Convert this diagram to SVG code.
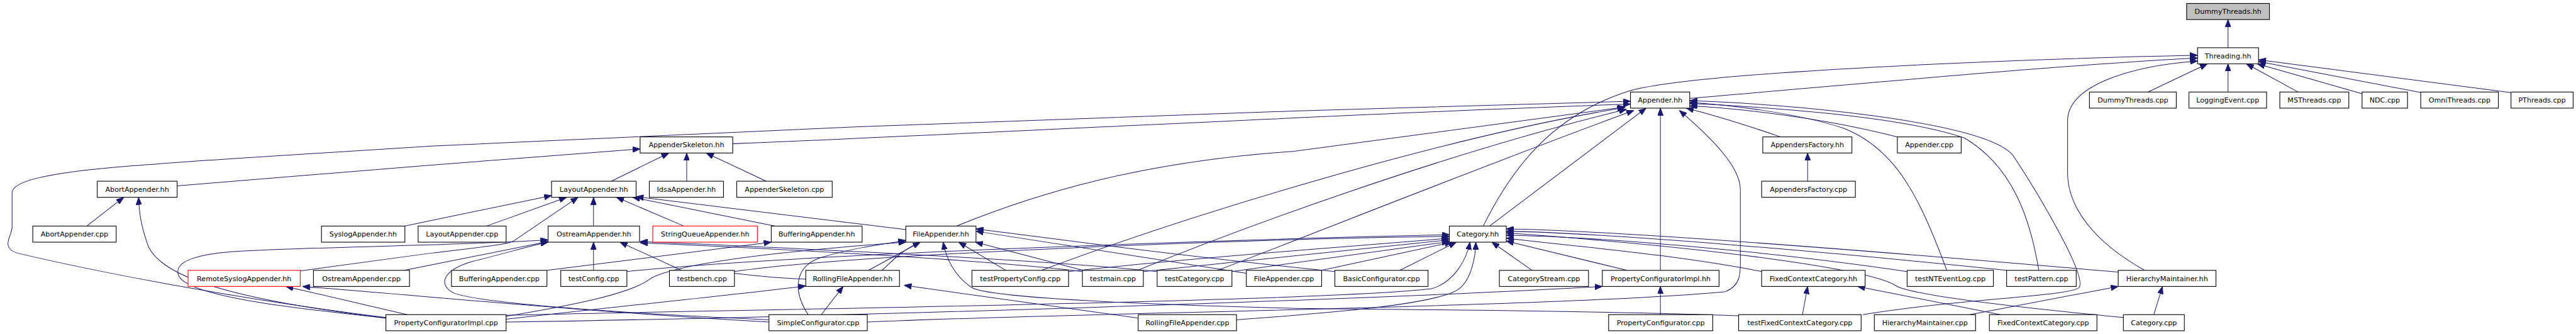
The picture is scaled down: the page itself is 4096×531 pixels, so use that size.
<svg xmlns="http://www.w3.org/2000/svg" width="4096" height="531" viewBox="0 0 4096 531">
<defs>
<marker id="a" markerUnits="userSpaceOnUse" markerWidth="13" markerHeight="10" refX="13" refY="5" orient="auto"><path d="M0,0 L13,5 L0,10 z" fill="#191970" stroke="#191970" stroke-width="1"/></marker>
<style>
.e path{fill:none;stroke:#191970;stroke-width:1.1;marker-end:url(#a)}
.n rect{fill:#fff;stroke:#000;stroke-width:1.2}
.n.g rect{fill:#bfbfbf}
.n.r rect{stroke:#ff0000}
.n text{font-family:"DejaVu Sans","Liberation Sans",sans-serif;font-size:12.2px;text-anchor:middle;fill:#000}
</style>
</defs>
<rect width="4096" height="531" fill="#fff"/>
<g transform="scale(0.91449)">
<g id="edges" class="e">
<path d="M3874,83 L3874,34"/>
<path d="M2938,171 C3300,140 3600,112 3821,101"/>
<path d="M2579,393 C2630,290 2700,200 2833,158 C2950,125 3500,103 3821,96"/>
<path d="M3729,470 C3640,420 3595,360 3595,300 L3595,210 C3595,150 3700,115 3821,106"/>
<path d="M3735,160 L3838,111"/>
<path d="M3874,160 L3874,111"/>
<path d="M3996,160 L3906,111"/>
<path d="M4107,163 L3925,111"/>
<path d="M4210,161 L3927,107"/>
<path d="M4366,161 L3927,104"/>
<path d="M1274,250 C1800,228 2400,195 2835,181"/>
<path d="M671,552 C450,525 200,480 30,440 C0,430 21,410 21,395 L21,335 C21,300 200,290 400,276 L750,254 L1500,220 L2250,193 L2835,176"/>
<path d="M2590,393 L2862,188"/>
<path d="M2887,470 L2887,188"/>
<path d="M3096,238 C3000,205 2960,195 2932,188"/>
<path d="M3299,238 C3150,200 3000,187 2938,184"/>
<path d="M3385,470 C3340,350 3300,260 3206,223 C3120,195 3000,182 2938,178"/>
<path d="M3545,470 C3530,380 3500,290 3416,240 C3300,200 3050,185 2938,180"/>
<path d="M3239,547 C3400,520 3600,515 3615,500 C3630,480 3540,330 3500,270 C3450,210 3100,180 2938,175"/>
<path d="M1277,475 C1400,490 1500,488 1519,481 C1540,470 1550,445 1600,420 C1800,330 2000,280 2250,263 L2826,186"/>
<path d="M1811,470 C2050,380 2500,240 2825,187"/>
<path d="M1978,470 C2150,400 2500,270 2828,190"/>
<path d="M2117,470 C2300,400 2600,280 2841,192"/>
<path d="M1508,560 C1800,545 2700,535 3000,507 C3030,495 3026,470 3026,440 L3026,330 C3026,300 3000,260 2920,192"/>
<path d="M308,323 L750,287 L1113,259"/>
<path d="M1063,315 L1163,266"/>
<path d="M1194,315 L1194,266"/>
<path d="M1332,315 L1228,266"/>
<path d="M3143,315 L3143,266"/>
<path d="M151,393 L215,343"/>
<path d="M671,553 C400,520 270,480 255,420 C245,390 242,370 241,343"/>
<path d="M703,393 L959,340"/>
<path d="M846,393 L985,343"/>
<path d="M522,471 L750,440 C850,428 880,425 893,419 L1005,343"/>
<path d="M1032,393 L1032,343"/>
<path d="M1189,393 L1072,343"/>
<path d="M1348,393 L1100,343"/>
<path d="M1575,399 L1106,342"/>
<path d="M703,470 L953,420"/>
<path d="M1032,470 L1032,421"/>
<path d="M1185,470 L1078,421"/>
<path d="M671,553 C500,535 330,515 311,480 C300,455 340,440 430,436 C600,428 850,425 953,417"/>
<path d="M1337,556 C1100,545 850,530 790,510 C760,495 770,470 820,455 C880,440 930,425 953,421"/>
<path d="M1882,472 C1700,450 1300,430 1113,422"/>
<path d="M2012,472 C1800,450 1300,428 1113,420"/>
<path d="M1510,470 L1600,421"/>
<path d="M1749,470 L1667,421"/>
<path d="M1883,470 L1696,421"/>
<path d="M1405,547 C1375,500 1385,460 1430,447 C1480,432 1530,425 1575,418"/>
<path d="M879,550 C1000,530 1100,510 1133,483 C1200,450 1450,430 1575,421"/>
<path d="M3023,549 C2800,540 2400,538 2250,536 C2000,530 1720,518 1690,500 C1660,480 1645,450 1640,421"/>
<path d="M2167,475 L1697,402"/>
<path d="M2321,472 C2000,440 1800,410 1697,398"/>
<path d="M1090,472 C1400,440 2200,415 2520,408"/>
<path d="M1277,472 C1500,440 2200,415 2520,411"/>
<path d="M1858,472 C2100,445 2400,425 2520,414"/>
<path d="M1988,472 C2200,450 2450,425 2520,417"/>
<path d="M2142,472 L2520,420"/>
<path d="M2298,470 L2525,421"/>
<path d="M2434,470 L2532,421"/>
<path d="M2664,470 L2594,421"/>
<path d="M2829,470 L2619,419"/>
<path d="M879,548 C1200,540 2300,525 2489,502 C2530,490 2550,450 2556,421"/>
<path d="M2150,556 C2300,545 2500,530 2537,502 C2560,485 2566,440 2566,421"/>
<path d="M3683,473 C3300,440 2800,400 2619,398"/>
<path d="M3489,470 C3200,440 2800,405 2619,402"/>
<path d="M3692,552 C3430,527 3320,510 3297,497 C3258,470 3000,432 2619,405"/>
<path d="M3316,472 C3100,440 2800,412 2619,409"/>
<path d="M3063,472 C2900,440 2700,425 2619,414"/>
<path d="M3134,547 L3143,498"/>
<path d="M3478,547 L3230,498"/>
<path d="M3425,547 L3683,498"/>
<path d="M3745,547 L3760,498"/>
<path d="M2887,547 L2887,498"/>
<path d="M879,560 C1500,550 2400,520 2786,498"/>
<path d="M879,555 C1100,530 1300,510 1401,497"/>
<path d="M1428,547 L1466,498"/>
<path d="M1979,553 L1572,496"/>
<path d="M708,547 L497,498"/>
<path d="M1337,560 C1000,540 800,520 526,498"/>
<path d="M951,470 L1341,421"/>
</g>
<g id="n1" class="n g"><rect x="3802" y="6" width="144" height="28"/><text x="3874" y="24.3">DummyThreads.hh</text></g>
<g id="n2" class="n"><rect x="3821" y="83" width="106" height="28"/><text x="3874" y="101.3">Threading.hh</text></g>
<g id="n3" class="n"><rect x="2835" y="160" width="103" height="28"/><text x="2886.5" y="178.3">Appender.hh</text></g>
<g id="n4" class="n"><rect x="3633" y="160" width="151" height="28"/><text x="3708.5" y="178.3">DummyThreads.cpp</text></g>
<g id="n5" class="n"><rect x="3806" y="160" width="135" height="28"/><text x="3873.5" y="178.3">LoggingEvent.cpp</text></g>
<g id="n6" class="n"><rect x="3964" y="160" width="120" height="28"/><text x="4024" y="178.3">MSThreads.cpp</text></g>
<g id="n7" class="n"><rect x="4107" y="160" width="79" height="28"/><text x="4146.5" y="178.3">NDC.cpp</text></g>
<g id="n8" class="n"><rect x="4209" y="160" width="135" height="28"/><text x="4276.5" y="178.3">OmniThreads.cpp</text></g>
<g id="n9" class="n"><rect x="4366" y="160" width="108" height="28"/><text x="4420" y="178.3">PThreads.cpp</text></g>
<g id="n10" class="n"><rect x="1113" y="238" width="161" height="28"/><text x="1193.5" y="256.3">AppenderSkeleton.hh</text></g>
<g id="n11" class="n"><rect x="3065" y="238" width="155" height="28"/><text x="3142.5" y="256.3">AppendersFactory.hh</text></g>
<g id="n12" class="n"><rect x="3299" y="238" width="111" height="28"/><text x="3354.5" y="256.3">Appender.cpp</text></g>
<g id="n13" class="n"><rect x="169" y="315" width="139" height="28"/><text x="238.5" y="333.3">AbortAppender.hh</text></g>
<g id="n14" class="n"><rect x="959" y="315" width="147" height="28"/><text x="1032.5" y="333.3">LayoutAppender.hh</text></g>
<g id="n15" class="n"><rect x="1129" y="315" width="129" height="28"/><text x="1193.5" y="333.3">IdsaAppender.hh</text></g>
<g id="n16" class="n"><rect x="1281" y="315" width="166" height="28"/><text x="1364" y="333.3">AppenderSkeleton.cpp</text></g>
<g id="n17" class="n"><rect x="3063" y="315" width="163" height="28"/><text x="3144.5" y="333.3">AppendersFactory.cpp</text></g>
<g id="n18" class="n"><rect x="57" y="393" width="145" height="28"/><text x="129.5" y="411.3">AbortAppender.cpp</text></g>
<g id="n19" class="n"><rect x="559" y="393" width="145" height="28"/><text x="631.5" y="411.3">SyslogAppender.hh</text></g>
<g id="n20" class="n"><rect x="727" y="393" width="153" height="28"/><text x="803.5" y="411.3">LayoutAppender.cpp</text></g>
<g id="n21" class="n"><rect x="953" y="393" width="159" height="28"/><text x="1032.5" y="411.3">OstreamAppender.hh</text></g>
<g id="n22" class="n r"><rect x="1135" y="393" width="182" height="28"/><text x="1226" y="411.3">StringQueueAppender.hh</text></g>
<g id="n23" class="n"><rect x="1341" y="393" width="158" height="28"/><text x="1420" y="411.3">BufferingAppender.hh</text></g>
<g id="n24" class="n"><rect x="1575" y="393" width="122" height="28"/><text x="1636" y="411.3">FileAppender.hh</text></g>
<g id="n25" class="n"><rect x="2520" y="393" width="99" height="28"/><text x="2569.5" y="411.3">Category.hh</text></g>
<g id="n26" class="n r"><rect x="327" y="470" width="195" height="28"/><text x="424.5" y="488.3">RemoteSyslogAppender.hh</text></g>
<g id="n27" class="n"><rect x="545" y="470" width="167" height="28"/><text x="628.5" y="488.3">OstreamAppender.cpp</text></g>
<g id="n28" class="n"><rect x="785" y="470" width="166" height="28"/><text x="868" y="488.3">BufferingAppender.cpp</text></g>
<g id="n29" class="n"><rect x="975" y="470" width="115" height="28"/><text x="1032.5" y="488.3">testConfig.cpp</text></g>
<g id="n30" class="n"><rect x="1164" y="470" width="113" height="28"/><text x="1220.5" y="488.3">testbench.cpp</text></g>
<g id="n31" class="n"><rect x="1401" y="470" width="163" height="28"/><text x="1482.5" y="488.3">RollingFileAppender.hh</text></g>
<g id="n32" class="n"><rect x="1690" y="470" width="168" height="28"/><text x="1774" y="488.3">testPropertyConfig.cpp</text></g>
<g id="n33" class="n"><rect x="1882" y="470" width="106" height="28"/><text x="1935" y="488.3">testmain.cpp</text></g>
<g id="n34" class="n"><rect x="2012" y="470" width="130" height="28"/><text x="2077" y="488.3">testCategory.cpp</text></g>
<g id="n35" class="n"><rect x="2167" y="470" width="131" height="28"/><text x="2232.5" y="488.3">FileAppender.cpp</text></g>
<g id="n36" class="n"><rect x="2321" y="470" width="162" height="28"/><text x="2402" y="488.3">BasicConfigurator.cpp</text></g>
<g id="n37" class="n"><rect x="2607" y="470" width="155" height="28"/><text x="2684.5" y="488.3">CategoryStream.cpp</text></g>
<g id="n38" class="n"><rect x="2786" y="470" width="203" height="28"/><text x="2887.5" y="488.3">PropertyConfiguratorImpl.hh</text></g>
<g id="n39" class="n"><rect x="3063" y="470" width="180" height="28"/><text x="3153" y="488.3">FixedContextCategory.hh</text></g>
<g id="n40" class="n"><rect x="3316" y="470" width="150" height="28"/><text x="3391" y="488.3">testNTEventLog.cpp</text></g>
<g id="n41" class="n"><rect x="3489" y="470" width="121" height="28"/><text x="3549.5" y="488.3">testPattern.cpp</text></g>
<g id="n42" class="n"><rect x="3683" y="470" width="170" height="28"/><text x="3768" y="488.3">HierarchyMaintainer.hh</text></g>
<g id="n43" class="n"><rect x="671" y="547" width="209" height="28"/><text x="775.5" y="565.3">PropertyConfiguratorImpl.cpp</text></g>
<g id="n44" class="n"><rect x="1337" y="547" width="171" height="28"/><text x="1422.5" y="565.3">SimpleConfigurator.cpp</text></g>
<g id="n45" class="n"><rect x="1979" y="547" width="171" height="28"/><text x="2064.5" y="565.3">RollingFileAppender.cpp</text></g>
<g id="n46" class="n"><rect x="2797" y="547" width="181" height="28"/><text x="2887.5" y="565.3">PropertyConfigurator.cpp</text></g>
<g id="n47" class="n"><rect x="3023" y="547" width="213" height="28"/><text x="3129.5" y="565.3">testFixedContextCategory.cpp</text></g>
<g id="n48" class="n"><rect x="3259" y="547" width="176" height="28"/><text x="3347" y="565.3">HierarchyMaintainer.cpp</text></g>
<g id="n49" class="n"><rect x="3459" y="547" width="187" height="28"/><text x="3552.5" y="565.3">FixedContextCategory.cpp</text></g>
<g id="n50" class="n"><rect x="3692" y="547" width="106" height="28"/><text x="3745" y="565.3">Category.cpp</text></g>
</g>
</svg>
